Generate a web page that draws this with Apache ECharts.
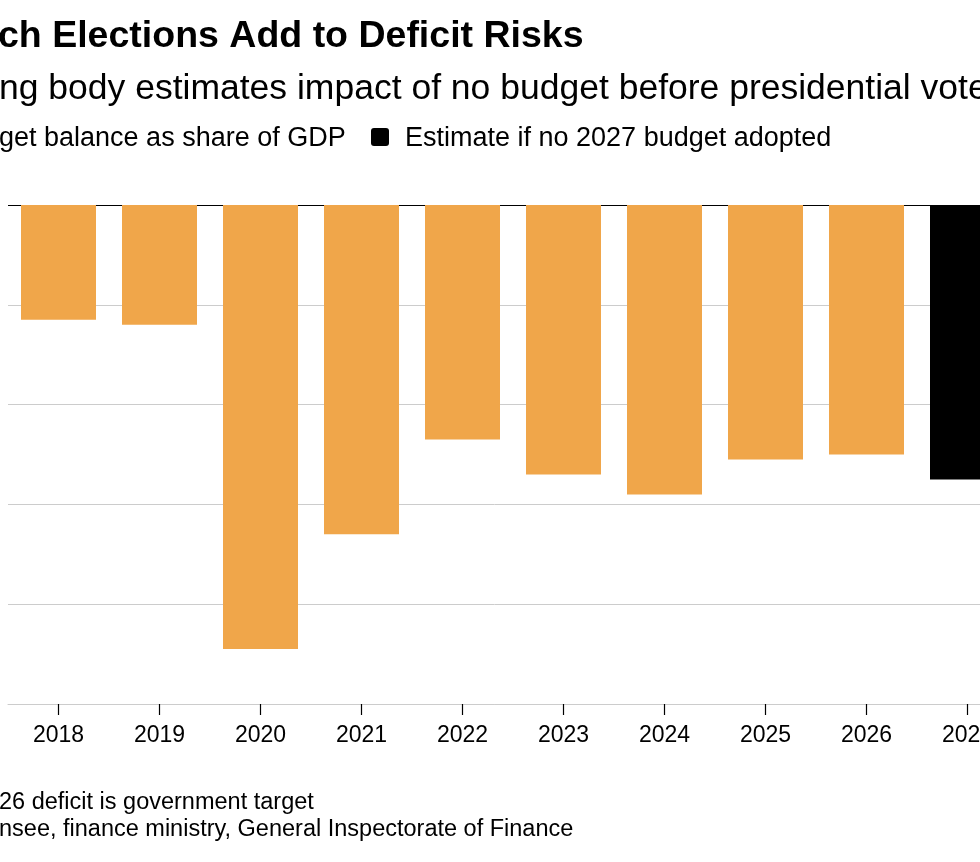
<!DOCTYPE html>
<html>
<head>
<meta charset="utf-8">
<script src="https://cdn.jsdelivr.net/npm/echarts@6/dist/echarts.min.js"></script>
<style>
  html, body { margin: 0; padding: 0; background: #fff; }
  #chart { width: 980px; height: 862px; }
</style>
</head>
<body>
<div id="chart"></div>
<script>
// years on the x axis
var years = ['2018', '2019', '2020', '2021', '2022', '2023', '2024', '2025', '2026', '2027'];
// budget balance, % of GDP
var balance = [-2.3, -2.4, -8.9, -6.6, -4.7, -5.4, -5.8, -5.1, -5.0, null];
// estimate if no 2027 budget adopted
var estimate = [null, null, null, null, null, null, null, null, null, -5.5];

var FONT = '"Liberation Sans", Arial, sans-serif';
var ORANGE = '#F0A64A';

var myChart = echarts.init(document.getElementById('chart'));

var option = {
  backgroundColor: '#fff',
  animation: false,
  grid: { left: 8, right: -38, top: 205, bottom: 158, containLabel: false, outerBoundsMode: 'none' },
  xAxis: {
    type: 'category',
    data: years,
    position: 'bottom',
    axisLine: { show: true, onZero: false, lineStyle: { color: '#cccccc', width: 1 } },
    axisTick: { show: true, inside: false, alignWithLabel: true, interval: 0, length: 11, lineStyle: { color: '#000000', width: 1.2 } },
    axisLabel: { interval: 0, color: '#000', fontFamily: FONT, fontSize: 23, margin: 20 }
  },
  yAxis: {
    type: 'value',
    min: -10,
    max: 0,
    interval: 2,
    axisLine: { show: false },
    axisTick: { show: false },
    axisLabel: { show: false },
    // last split line (value 0) is the black zero line
    splitLine: { lineStyle: { color: ['#cccccc', '#cccccc', '#cccccc', '#cccccc', '#cccccc', '#000000'], width: 1 } }
  },
  series: [
    {
      name: 'Budget balance as share of GDP',
      type: 'bar',
      stack: 'b',
      data: balance,
      barWidth: 75,
      itemStyle: { color: ORANGE }
    },
    {
      name: 'Estimate if no 2027 budget adopted',
      type: 'bar',
      stack: 'b',
      data: estimate,
      barWidth: 75,
      itemStyle: { color: '#000' }
    }
  ],
  graphic: [
    { type: 'text', left: -2, top: 18, style: { text: 'ch Elections Add to Deficit Risks', font: 'bold 37.5px ' + FONT, fill: '#000' } },
    { type: 'text', left: -1, top: 71, style: { text: 'ng body estimates impact of no budget before presidential vote', font: '35.5px ' + FONT, fill: '#000' } },
    { type: 'text', left: -1, top: 125, style: { text: 'get balance as share of GDP', font: '27px ' + FONT, fill: '#000' } },
    { type: 'rect', shape: { x: 371, y: 128, width: 18, height: 18, r: 3 }, style: { fill: '#000' } },
    { type: 'text', left: 405, top: 125, style: { text: 'Estimate if no 2027 budget adopted', font: '27px ' + FONT, fill: '#000' } },
    { type: 'text', left: -1, top: 791, style: { text: '26 deficit is government target', font: '23.5px ' + FONT, fill: '#000' } },
    { type: 'text', left: -1, top: 818, style: { text: 'nsee, finance ministry, General Inspectorate of Finance', font: '23.5px ' + FONT, fill: '#000' } }
  ]
};

myChart.setOption(option);
window.addEventListener('resize', function () {
  myChart.resize();
});
</script>
</body>
</html>
